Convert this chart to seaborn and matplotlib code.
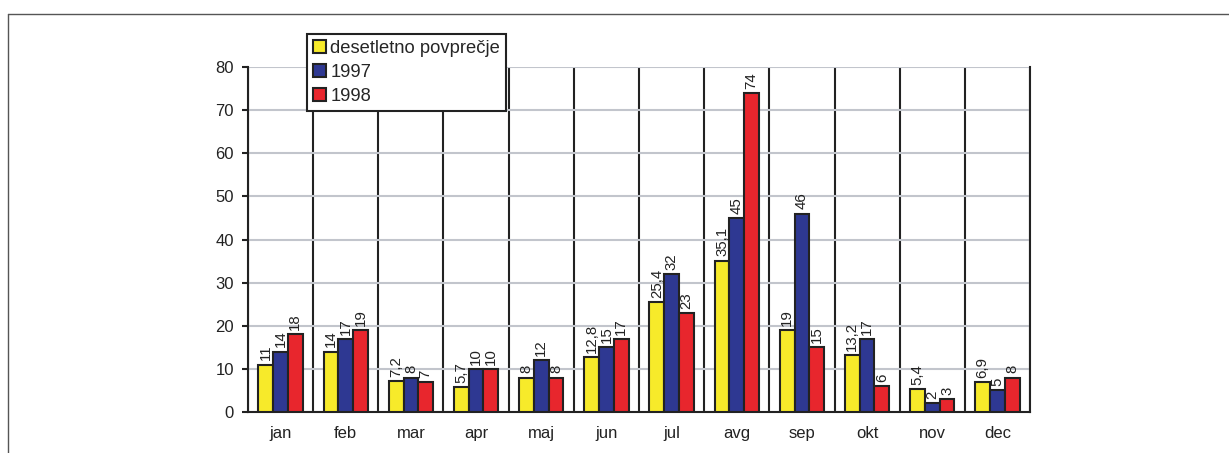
"""Monthly chart: ten-year average vs 1997 and 1998."""
import matplotlib
matplotlib.use("Agg")
import matplotlib.pyplot as plt
from matplotlib.lines import Line2D
import numpy as np
import pandas as pd
import seaborn as sns

months = ["jan", "feb", "mar", "apr", "maj", "jun", "jul", "avg", "sep", "okt", "nov", "dec"]
series = ["desetletno povprečje", "1997", "1998"]
avg_decade = [11, 14, 7.2, 5.7, 8, 12.8, 25.4, 35.1, 19, 13.2, 5.4, 6.9]
y1997 = [14, 17, 8, 10, 12, 15, 32, 45, 46, 17, 2, 5]
y1998 = [18, 19, 7, 10, 8, 17, 23, 74, 15, 6, 3, 8]
colors = ["#f7ea2a", "#2e3892", "#e8262d"]
y_ticks = [0, 10, 20, 30, 40, 50, 60, 70, 80]

df = pd.DataFrame({
    "mesec": months * 3,
    "serija": [series[0]] * 12 + [series[1]] * 12 + [series[2]] * 12,
    "vrednost": avg_decade + y1997 + y1998,
})

sns.set_style("white")
plt.rcParams["font.family"] = ["Liberation Sans", "DejaVu Sans"]

fig = plt.figure(figsize=(12.29, 4.53), dpi=100)
ax = fig.add_axes([248 / 1229, 1 - 412 / 453, 782 / 1229, 345 / 453])

sns.barplot(data=df, x="mesec", y="vrednost", hue="serija", order=months,
            hue_order=series, palette=colors, width=0.68, gap=0,
            edgecolor="#222222", linewidth=1.5, saturation=1, ax=ax, zorder=3)

# value labels, decimal comma, rotated
for cont, vals in zip(ax.containers, [avg_decade, y1997, y1998]):
    labels = [f"{v:g}".replace(".", ",") for v in vals]
    ax.bar_label(cont, labels=labels, rotation=90, padding=3, fontsize=10.8,
                 color="#222222")

ax.set_xlim(-0.5, 11.5)
ax.set_ylim(0, 80)
ax.set_yticks(y_ticks)
ax.set_xticks(np.arange(-0.5, 12, 1), minor=True)
ax.tick_params(axis="x", which="major", length=0, labelsize=12, pad=10, colors="#222222")
ax.tick_params(axis="x", which="minor", length=5, width=1.5, color="#222222", direction="out")
ax.tick_params(axis="y", length=4, width=1.5, color="#222222", labelsize=12, pad=6,
               labelcolor="#222222", direction="out", left=True)
ax.grid(axis="y", which="major", color="#c2c5cc", linewidth=1.5, zorder=0)
ax.grid(axis="x", which="minor", color="#222222", linewidth=1.5, zorder=1)
ax.grid(axis="x", which="major", visible=False)
ax.set_axisbelow(True)
ax.set_xlabel("")
ax.set_ylabel("")
for side in ["left", "bottom", "right"]:
    ax.spines[side].set_color("#222222")
    ax.spines[side].set_linewidth(1.5)
ax.spines["top"].set_visible(False)

handles, labels = ax.get_legend_handles_labels()
leg = ax.legend(handles, labels, loc="upper left", bbox_to_anchor=(0.0754, 1.0957),
                frameon=True, fancybox=False, framealpha=1, edgecolor="#222222",
                fontsize=13.2, handlelength=0.7, handleheight=0.7, handletextpad=0.25,
                labelspacing=0.38, borderpad=0.33, borderaxespad=0)
leg.get_frame().set_linewidth(1.5)
leg.set_zorder(10)
for h in leg.legend_handles:
    h.set_edgecolor("#222222")
    h.set_linewidth(1.5)

# outer frame (top and left lines)
fig.add_artist(Line2D([8 / 1229, 1], [1 - 14 / 453, 1 - 14 / 453],
                      transform=fig.transFigure, color="#555555", linewidth=1))
fig.add_artist(Line2D([8 / 1229, 8 / 1229], [0, 1 - 14 / 453],
                      transform=fig.transFigure, color="#555555", linewidth=1))

fig.savefig("out.png", dpi=100)
plt.close(fig)
